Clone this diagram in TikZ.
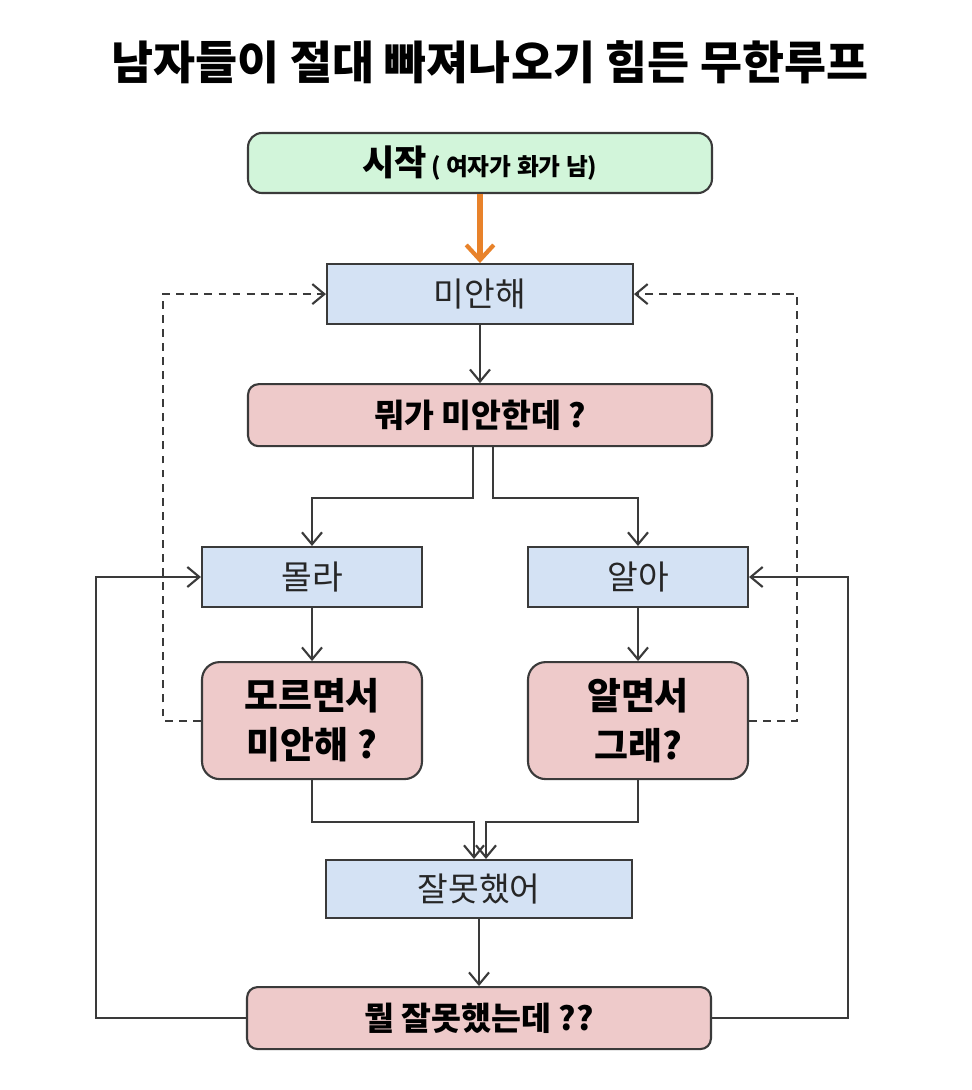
\documentclass[tikz,border=0pt]{standalone}
\usepackage{fontspec}
\setmainfont{Noto Sans CJK KR}
\usetikzlibrary{positioning,arrows.meta}

\definecolor{startgreen}{HTML}{D2F5DA}
\definecolor{boxblue}{HTML}{D4E2F4}
\definecolor{boxpink}{HTML}{EECACA}
\definecolor{edgegray}{HTML}{3A3A3A}
\definecolor{kickorange}{HTML}{E8822A}

\begin{document}
\begin{tikzpicture}[
    x=0.02cm, y=-0.02cm,
    >={Straight Barb[length=2.4mm,width=4mm,line width=1.2pt]},
    answer/.style={rectangle, draw=edgegray, line width=1.2pt, fill=boxblue, minimum width=6.12cm, minimum height=1.2cm, text=black!85, font=\fontsize{19}{22}\selectfont},
    retort/.style={rectangle, draw=edgegray, line width=1.2pt, fill=boxpink, rounded corners=6pt, minimum width=9.28cm, minimum height=1.24cm, align=center, font=\bfseries\fontsize{18.5}{22}\selectfont},
    flow/.style={->, draw=edgegray, line width=1pt},
    retry/.style={->, draw=edgegray, line width=1.1pt, dash pattern=on 4.5pt off 3.5pt}
]
    \useasboundingbox[fill=white] (0,0) rectangle (972,1090);

    \node[font=\bfseries\fontsize{26}{30}\selectfont] (title) at (490,62) {남자들이 절대 빠져나오기 힘든 무한루프};

    \node[rectangle, draw=edgegray, line width=1.2pt, fill=startgreen, rounded corners=8pt, minimum width=9.28cm, minimum height=1.2cm, font=\bfseries] (start) at (480,163)
        {{\fontsize{20}{22}\selectfont 시작} {\fontsize{13.5}{15}\selectfont ( 여자가 화가 남)}};
    \node[answer] (sorry) [below=1.38cm of start] {미안해};
    \node[retort] (what) [below=1.16cm of sorry] {뭐가 미안한데 ?};

    \node[answer, minimum width=4.4cm] (dunno) at (312,577) {몰라};
    \node[answer, minimum width=4.4cm] (know) at (638,577) {알아};
    \node[retort, minimum width=4.4cm, minimum height=2.34cm, rounded corners=10pt, font=\bfseries\fontsize{21}{28}\selectfont] (dunnoq) [below=1.06cm of dunno] {모르면서\\미안해 ?};
    \node[retort, minimum width=4.4cm, minimum height=2.34cm, rounded corners=10pt, font=\bfseries\fontsize{21}{28}\selectfont] (knowq) [below=1.06cm of know] {알면서\\그래?};

    \node[answer, minimum height=1.16cm] (wrong) at (479,889) {잘못했어};
    \node[retort] (whatwrong) [below=1.34cm of wrong] {뭘 잘못했는데 ??};

    % main line
    \draw[-{Straight Barb[length=3mm,width=5.5mm,line width=2.4pt]}, draw=kickorange, line width=3pt] (start) -- (sorry);
    \draw[flow] (sorry) -- (what);
    \draw[flow] ([xshift=-0.14cm]what.south) -- ++(0,51) -| (dunno.north);
    \draw[flow] ([xshift=0.26cm]what.south) -- ++(0,51) -| (know.north);
    \draw[flow] (dunno) -- (dunnoq);
    \draw[flow] (know) -- (knowq);
    \draw[flow] (dunnoq.south) -- ++(0,42) -| ([xshift=-0.1cm]wrong.north);
    \draw[flow] (knowq.south) -- ++(0,42) -| ([xshift=0.14cm]wrong.north);
    \draw[flow] (wrong) -- (whatwrong);

    % loops back
    \draw[retry] (dunnoq.west) -- ++(-38,0) |- (sorry.west);
    \draw[retry] (knowq.east) -- ++(48,0) |- (sorry.east);
    \draw[flow] (whatwrong.west) -- ++(-150,0) |- (dunno.west);
    \draw[flow] (whatwrong.east) -- ++(136,0) |- (know.east);
\end{tikzpicture}
\end{document}
